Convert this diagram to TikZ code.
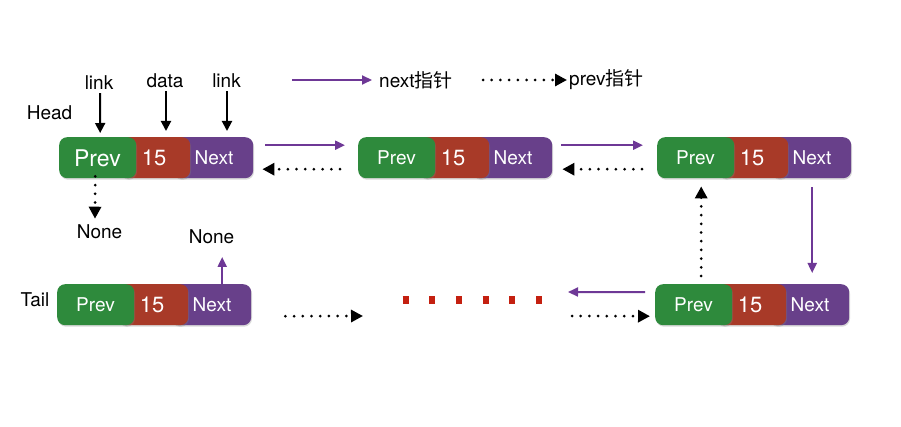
\documentclass[tikz,border=0pt]{standalone}
\usepackage{fontspec}
\setmainfont{TeX Gyre Heros}
\newfontfamily\cjk{Noto Sans CJK SC}
\usetikzlibrary{arrows.meta,shadows,calc}
\definecolor{cgreen}{RGB}{46,138,60}
\definecolor{cred}{RGB}{168,58,40}
\definecolor{cpurple}{RGB}{104,64,138}
\definecolor{carrow}{RGB}{110,56,150}
\definecolor{cdots}{RGB}{196,32,16}
\newcommand\fs[1]{\fontsize{#1}{#1}\selectfont}
\newcommand\dlnode[4]{%
  \node[pcell] (#1-nb) at (#2+114,#3) {};
  \node[rcell] (#1-db) at (#2+61,#3) {};
  \node[gcell] (#1-pb) at (#2,#3) {};
  \node[ctext, font=\fs{#4}] (#1-p) at (#2+38.5,#3+21) {Prev};
  \node[ctext, font=\fs{22}] (#1-d) at (#2+95,#3+21) {15};
  \node[ctext, font=\fs{19}] (#1-n) at (#2+155,#3+21) {Next};
}
\begin{document}
\begin{tikzpicture}[x=1pt,y=-1pt,
  cell/.style={rounded corners=8pt, minimum height=41pt, inner sep=0pt, anchor=north west,
    drop shadow={shadow xshift=0.8pt,shadow yshift=-1.5pt,opacity=0.3}},
  pcell/.style={cell, fill=cpurple, minimum width=80pt},
  rcell/.style={cell, fill=cred, minimum width=70pt},
  gcell/.style={cell, fill=cgreen, minimum width=77pt},
  ctext/.style={text=white, inner sep=0pt},
  lbl/.style={font=\fs{19}, inner sep=0pt},
  nextarrow/.style={draw=carrow, line width=2pt, -{Triangle[length=10pt,width=9pt]}},
  prevarrow/.style={draw=black, line width=3pt, line cap=round, dash pattern=on 0pt off 8.7pt,
    -{Triangle[length=12pt,width=12pt]}},
  linkarrow/.style={draw=black, line width=2pt, -{Triangle[length=10pt,width=10pt]}},
  reddots/.style={draw=cdots, line width=7.5pt, dash pattern=on 6pt off 20.7pt},
]
\fill[white] (0,0) rectangle (901,427);
\useasboundingbox (0,0) rectangle (901,427);

% list nodes
\dlnode{n1}{59}{137}{23}
\dlnode{n2}{358}{137}{19}
\dlnode{n3}{657}{137}{19}
\dlnode{n4}{655}{284}{19}
\dlnode{t}{57}{284}{19}

% labels
\node[lbl] (head) at (49.5,113) {Head};
\node[lbl] (tail) at (35,300) {Tail};
\node[lbl] (lk1) at (99,83) {link};
\node[lbl] (dt) at (165,81) {data};
\node[lbl] (lk2) at (226.5,81) {link};
\node[lbl] (none1) at (99.5,232) {None};
\node[lbl] (none2) at (211.5,237) {None};

% legend
\coordinate (lgA) at (292,80);
\node[lbl, anchor=west] (lgn) at (379,80) {next{\cjk 指针}};
\coordinate (lgB) at (483,80);
\node[lbl, anchor=west] (lgp) at (569,80) {prev{\cjk 指针}};
\draw[nextarrow, shorten >=7pt] (lgA) -- (lgn.west);
\draw[prevarrow, shorten >=2pt] (lgB) -- (lgp.west);

% link / data arrows
\draw[linkarrow] ($(lk1.south)+(1,3)$) -- ($(n1-pb.north)+(2.5,-4)$);
\draw[linkarrow] ($(dt.south)+(1,3)$) -- ($(dt.south |- n1-db.north)+(1,-6)$);
\draw[linkarrow] ($(lk2.south)+(0.5,3)$) -- ($(lk2.south |- n1-nb.north)+(0.5,-6)$);

% head prev -> None
\draw[prevarrow] ($(n1-pb.south)+(-2.5,-2)$) -- ($(none1.north)+(-4.5,-6)$);

% next pointers
\draw[nextarrow] ($(n1-nb.east)+(12,-12.5)$) -- ($(n2-pb.west)+(-13,-12.5)$);
\draw[nextarrow] ($(n2-nb.east)+(9,-12.5)$) -- ($(n3-pb.west)+(-14,-12.5)$);
\draw[nextarrow] ($(n3-nb.south)+(1,9)$) -- ($(n3-nb.south |- n4-nb.north)+(1,-11)$);

% prev pointers
\draw[prevarrow] ($(n2-pb.west)+(-18,11.5)$) -- ($(n1-nb.east)+(9,11.5)$);
\draw[prevarrow] ($(n3-pb.west)+(-15,11.5)$) -- ($(n2-nb.east)+(10,11.5)$);
\draw[prevarrow] ($(n4-pb.north)+(7.5,-8)$) -- ($(n4-pb.north |- n3-pb.south)+(7.5,8)$);

% gap (red dots) and its connectors
\coordinate (dotsL) at (402.5,300);
\coordinate (dotsR) at (542.5,300);
\draw[reddots] (dotsL) -- (dotsR);
\draw[nextarrow] ($(n4-pb.west)+(-10,-12.5)$) -- ($(dotsR)+(25.5,-8)$);
\draw[prevarrow] ($(dotsR)+(29.5,16)$) -- ($(n4-pb.west)+(-5,11.5)$);
\draw[prevarrow] ($(t-nb.east)+(34,11.5)$) -- ($(dotsL)+(-39.5,16)$);

% tail next -> None
\draw[nextarrow] ($(t-nb.north)+(11,0)$) -- ($(t-nb.north)+(11,-27)$);
\end{tikzpicture}
\end{document}
